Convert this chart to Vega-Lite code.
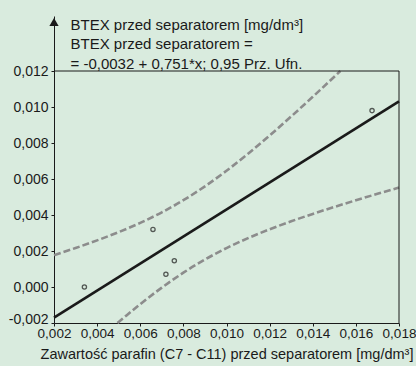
{
  "$schema": "https://vega.github.io/schema/vega-lite/v6.json",
  "width": 345,
  "height": 307,
  "autosize": {"type": "none"},
  "padding": {"left": 54, "top": 16, "right": 17, "bottom": 43},
  "background": "#d9ebde",
  "config": {
    "view": {"stroke": null},
    "font": "Liberation Sans",
    "axis": {"labelFont": "Liberation Sans", "titleFont": "Liberation Sans", "labelColor": "#1a1a1a", "titleColor": "#1a1a1a", "domainColor": "#1a1a1a", "tickColor": "#1a1a1a", "grid": false}
  },
  "datasets": {
    "points": [
      {"x": 0.00341, "y": 0.0000},
      {"x": 0.00659, "y": 0.0032},
      {"x": 0.00719, "y": 0.00071},
      {"x": 0.00758, "y": 0.00146},
      {"x": 0.01675, "y": 0.0098}
    ],
    "fit": [
      {"x": 0.002, "y": -0.001698},
      {"x": 0.018, "y": 0.010318}
    ],
    "upper": [
      {"x": 0.002, "y": 0.001771},
      {"x": 0.003, "y": 0.002167},
      {"x": 0.004, "y": 0.002590},
      {"x": 0.005, "y": 0.003051},
      {"x": 0.006, "y": 0.003564},
      {"x": 0.007, "y": 0.004148},
      {"x": 0.008, "y": 0.004821},
      {"x": 0.009, "y": 0.005592},
      {"x": 0.010, "y": 0.006458},
      {"x": 0.011, "y": 0.007407},
      {"x": 0.012, "y": 0.008418},
      {"x": 0.013, "y": 0.009476},
      {"x": 0.014, "y": 0.010567},
      {"x": 0.015, "y": 0.011682},
      {"x": 0.01528, "y": 0.012}
    ],
    "lower": [
      {"x": 0.00494, "y": -0.002},
      {"x": 0.005, "y": -0.001941},
      {"x": 0.006, "y": -0.000952},
      {"x": 0.007, "y": -0.000034},
      {"x": 0.008, "y": 0.000795},
      {"x": 0.009, "y": 0.001526},
      {"x": 0.010, "y": 0.002162},
      {"x": 0.011, "y": 0.002715},
      {"x": 0.012, "y": 0.003206},
      {"x": 0.013, "y": 0.003650},
      {"x": 0.014, "y": 0.004061},
      {"x": 0.015, "y": 0.004448},
      {"x": 0.016, "y": 0.004818},
      {"x": 0.017, "y": 0.005175},
      {"x": 0.018, "y": 0.005522}
    ],
    "one": [{}]
  },
  "layer": [
    {
      "data": {"name": "upper"},
      "mark": {"type": "line", "color": "#8c8c8c", "strokeWidth": 2.6, "strokeDash": [7, 3], "interpolate": "monotone"},
      "encoding": {
        "x": {
          "field": "x", "type": "quantitative",
          "scale": {"domain": [0.002, 0.018], "nice": false, "zero": false},
          "axis": {
            "values": [0.002, 0.004, 0.006, 0.008, 0.010, 0.012, 0.014, 0.016, 0.018],
            "labelExpr": "replace(format(datum.value, '.3f'), '.', ',')",
            "labelFontSize": 13.5, "tickSize": 3, "labelPadding": 0,
            "labelOverlap": false, "labelFlush": false,
            "title": "Zawartość parafin (C7 - C11) przed separatorem [mg/dm³]",
            "titleFontSize": 14.5, "titleFontWeight": "normal", "titlePadding": 8
          }
        },
        "y": {
          "field": "y", "type": "quantitative",
          "scale": {"domain": [-0.002, 0.015056], "nice": false, "zero": false},
          "axis": {
            "values": [-0.002, 0.0, 0.002, 0.004, 0.006, 0.008, 0.010, 0.012],
            "labelExpr": "replace(replace(format(datum.value, '.3f'), '.', ','), '−', '-')",
            "labelFontSize": 14, "tickSize": 3, "labelPadding": 3,
            "labelOverlap": false, "labelFlush": false,
            "labelOffset": {"condition": {"test": "datum.value < -0.001", "value": -4}, "value": 0},
            "title": ["BTEX przed separatorem [mg/dm³]", "BTEX przed separatorem =", "= -0,0032 + 0,751*x; 0,95 Prz. Ufn."],
            "titleAngle": 0, "titleAlign": "left", "titleBaseline": "top",
            "titleX": 16, "titleY": 1, "titleLineHeight": 19.5,
            "titleFontSize": 15, "titleFontWeight": "normal"
          }
        }
      }
    },
    {
      "data": {"name": "lower"},
      "mark": {"type": "line", "color": "#8c8c8c", "strokeWidth": 2.6, "strokeDash": [7, 3], "interpolate": "monotone"},
      "encoding": {
        "x": {"field": "x", "type": "quantitative"},
        "y": {"field": "y", "type": "quantitative"}
      }
    },
    {
      "data": {"name": "fit"},
      "mark": {"type": "line", "color": "#1a1a1a", "strokeWidth": 2.6},
      "encoding": {
        "x": {"field": "x", "type": "quantitative"},
        "y": {"field": "y", "type": "quantitative"}
      }
    },
    {
      "data": {"name": "points"},
      "mark": {"type": "point", "shape": "circle", "filled": false, "color": "#1a1a1a", "size": 18, "strokeWidth": 1.3},
      "encoding": {
        "x": {"field": "x", "type": "quantitative"},
        "y": {"field": "y", "type": "quantitative"}
      }
    },
    {
      "data": {"name": "one"},
      "mark": {"type": "rule", "color": "#1a1a1a", "strokeWidth": 1},
      "encoding": {
        "x": {"datum": 0.002},
        "x2": {"datum": 0.018},
        "y": {"datum": 0.012}
      }
    },
    {
      "data": {"name": "one"},
      "mark": {"type": "rule", "color": "#1a1a1a", "strokeWidth": 1},
      "encoding": {
        "x": {"datum": 0.018},
        "y": {"datum": -0.002},
        "y2": {"datum": 0.012}
      }
    },
    {
      "data": {"name": "one"},
      "mark": {"type": "point", "shape": "triangle-up", "filled": true, "color": "#1a1a1a", "size": 85, "opacity": 1},
      "encoding": {
        "x": {"datum": 0.002},
        "y": {"datum": 0.01472}
      }
    }
  ]
}
